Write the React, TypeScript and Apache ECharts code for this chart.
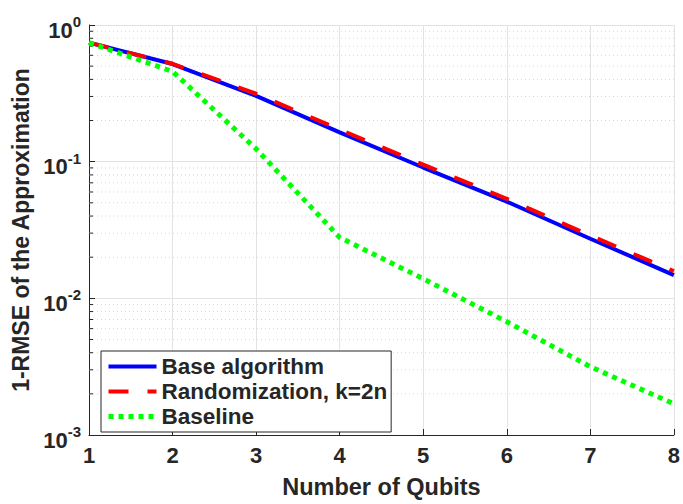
import React, { useEffect, useRef } from "react";
import * as echarts from "echarts";

const qubits = [1, 2, 3, 4, 5, 6, 7, 8];
const baseAlgorithm = [0.743, 0.518, 0.303, 0.164, 0.0906, 0.051, 0.0273, 0.0148];
const randomization = [0.743, 0.52, 0.314, 0.172, 0.095, 0.0535, 0.0288, 0.0158];
const baseline = [0.743, 0.457, 0.124, 0.0279, 0.0139, 0.00674, 0.00316, 0.00169];
const minorTicks: number[] = [];
for (const d of [0.001, 0.01, 0.1]) {
  for (const m of [2, 3, 4, 5, 6, 7, 8, 9]) minorTicks.push(+(d * m).toPrecision(3));
}

const FONT = "'Liberation Sans', Arial, Helvetica, sans-serif";
const AX = "#262626";

export default function App() {
  const ref = useRef<HTMLDivElement>(null);
  useEffect(() => {
    if (!ref.current) return;
    const chart = echarts.init(ref.current, null, { renderer: "svg" });
    const pair = (ys: number[]) => qubits.map((x, i) => [x, ys[i]]);
    chart.setOption({
      animation: false,
      backgroundColor: "#ffffff",
      textStyle: { fontFamily: FONT },
      grid: { left: 89, right: 6, top: 25, bottom: 59, containLabel: false },
      legend: {
        orient: "vertical",
        left: 101,
        top: 351,
        backgroundColor: "#ffffff",
        borderColor: AX,
        borderWidth: 1,
        borderRadius: 0,
        padding: [3, 4, 3, 5],
        itemGap: 0,
        itemWidth: 48,
        itemHeight: 6,
        itemStyle: { opacity: 0 },
        textStyle: { fontFamily: FONT, fontWeight: "bold", fontSize: 22.5, color: AX, lineHeight: 25 },
        data: [
          { name: "Base algorithm", lineStyle: { width: 4 } },
          { name: "Randomization, k=2n", lineStyle: { width: 4 } },
          { name: "Baseline", lineStyle: { width: 5 } },
        ],
      },
      xAxis: {
        type: "value",
        min: 1,
        max: 8,
        interval: 1,
        name: "Number of Qubits",
        nameLocation: "middle",
        nameGap: 40,
        nameTextStyle: { fontFamily: FONT, fontWeight: "bold", fontSize: 23.5, color: AX },
        axisLine: { show: true, onZero: false, lineStyle: { color: AX, width: 1 } },
        axisTick: { show: true, inside: true, length: 6, lineStyle: { color: AX } },
        axisLabel: { fontFamily: FONT, fontWeight: "bold", fontSize: 22, color: AX, margin: 9 },
        splitLine: { show: true, lineStyle: { color: "#e3e3e3", width: 1 } },
      },
      yAxis: {
        type: "log",
        logBase: 10,
        min: 0.001,
        max: 1,
        name: "1-RMSE of the Approximation",
        nameLocation: "middle",
        nameGap: 57,
        nameTextStyle: { fontFamily: FONT, fontWeight: "bold", fontSize: 23, color: AX },
        axisLine: { show: true, lineStyle: { color: AX, width: 1 } },
        axisTick: { show: true, inside: true, length: 6, lineStyle: { color: AX } },
        minorTick: { show: false },
        axisLabel: {
          margin: 8,
          formatter: (v: number) => `{b|10}{s|${Math.round(Math.log10(v))}}`,
          rich: {
            b: { fontFamily: FONT, fontWeight: "bold", fontSize: 22, lineHeight: 22, color: AX, padding: [10, 0, 0, 0] },
            s: { fontFamily: FONT, fontWeight: "bold", fontSize: 15, lineHeight: 15, color: AX, verticalAlign: "top" },
          },
        },
        splitLine: { show: true, lineStyle: { color: "#e3e3e3", width: 1 } },
      },
      series: [
        {
          type: "custom",
          name: "minor",
          silent: true,
          z: 1,
          data: minorTicks.map((v) => [1, v]),
          renderItem: (params: any, api: any) => {
            const v = api.value(1);
            const p1 = api.coord([1, v]);
            const p2 = api.coord([8, v]);
            return {
              type: "group",
              children: [
                {
                  type: "line",
                  shape: { x1: p1[0], y1: p1[1], x2: p2[0], y2: p2[1] },
                  style: { stroke: "#d4d4d4", lineWidth: 1, lineDash: [1, 3] },
                },
                {
                  type: "line",
                  shape: { x1: p1[0], y1: p1[1], x2: p1[0] + 4, y2: p1[1] },
                  style: { stroke: AX, lineWidth: 1 },
                },
              ],
            };
          },
        },
        {
          type: "line",
          name: "Base algorithm",
          data: pair(baseAlgorithm),
          showSymbol: false,
          symbol: "none",
          z: 3,
          lineStyle: { color: "#0000ff", width: 4, cap: "butt" },
          itemStyle: { color: "#0000ff" },
        },
        {
          type: "line",
          name: "Randomization, k=2n",
          data: pair(randomization),
          showSymbol: false,
          symbol: "none",
          z: 4,
          lineStyle: { color: "#ff0000", width: 4, type: [20, 19], cap: "butt" },
          itemStyle: { color: "#ff0000" },
        },
        {
          type: "line",
          name: "Baseline",
          data: pair(baseline),
          showSymbol: false,
          symbol: "none",
          z: 5,
          lineStyle: { color: "#00ff00", width: 5, type: [5, 5], cap: "butt" },
          itemStyle: { color: "#00ff00" },
        },
      ],
    });
    return () => chart.dispose();
  }, []);
  return <div ref={ref} style={{ width: 683, height: 504, position: "absolute", left: 0, top: 0 }} />;
}
